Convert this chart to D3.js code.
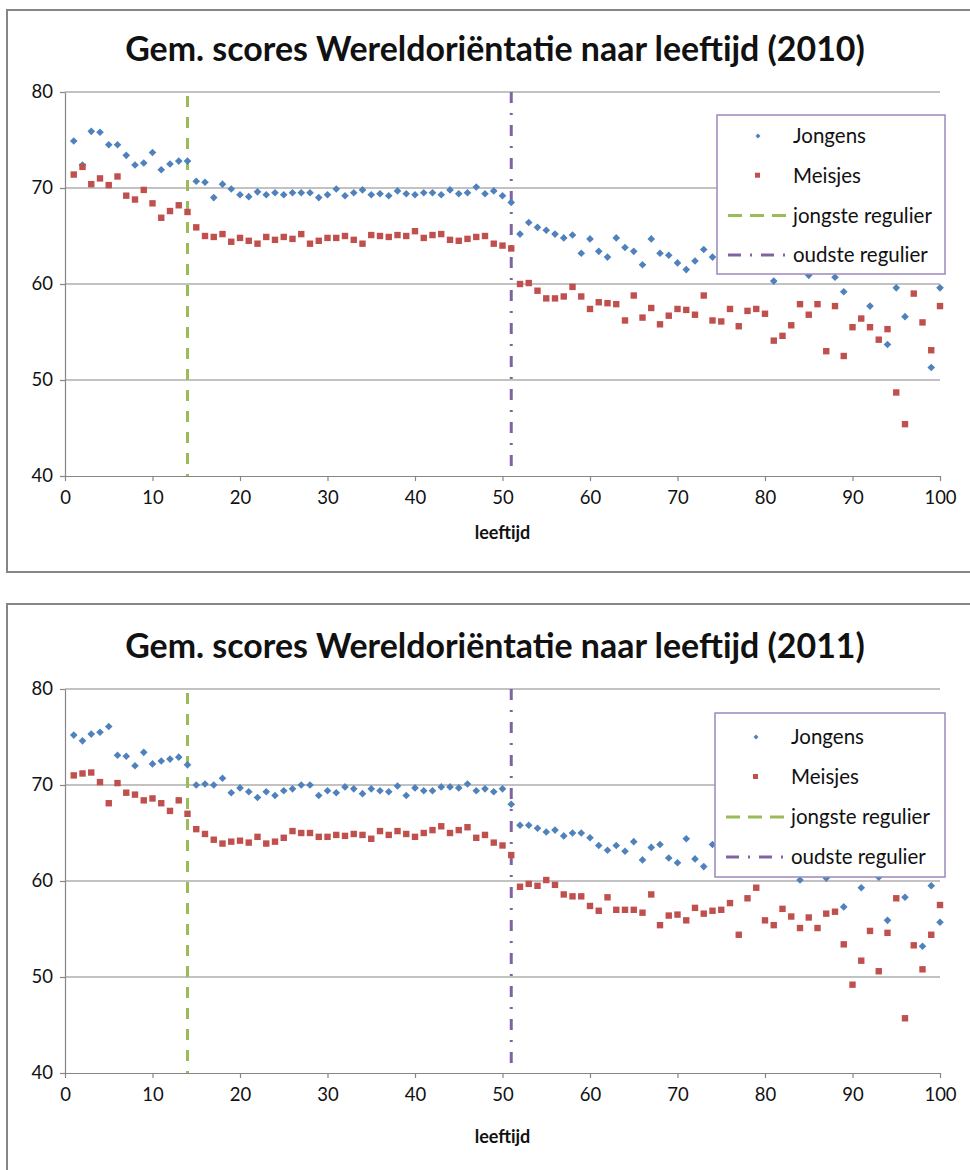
<!DOCTYPE html>
<html>
<head>
<meta charset="utf-8">
<script src="https://cdn.jsdelivr.net/npm/d3@7"></script>
<style>
body { margin: 0; background: #fff; }
text { font-family: Lato, "Open Sans", sans-serif; fill: #111; }
</style>
</head>
<body>
<svg id="chart" width="970" height="1170"></svg>
<script>
// leeftijd 1..100
const ages = d3.range(1, 101);
const yTicks = [40, 50, 60, 70, 80];
const xTicks = [0, 10, 20, 30, 40, 50, 60, 70, 80, 90, 100];
const jongsteRegulier = 14;
const oudsteRegulier = 51;
const legendLabels = ['Jongens', 'Meisjes', 'jongste regulier', 'oudste regulier'];

const jongens2010 = [74.9, 72.4, 75.9, 75.8, 74.5, 74.5, 73.4, 72.4, 72.6, 73.7,
  71.9, 72.5, 72.8, 72.8, 70.7, 70.6, 69.0, 70.4, 69.9, 69.3,
  69.1, 69.6, 69.3, 69.5, 69.3, 69.5, 69.5, 69.5, 69.0, 69.3,
  69.9, 69.2, 69.5, 69.8, 69.3, 69.4, 69.2, 69.7, 69.4, 69.3,
  69.5, 69.5, 69.3, 69.8, 69.4, 69.5, 70.1, 69.4, 69.7, 69.2,
  68.5, 65.2, 66.4, 65.9, 65.6, 65.2, 64.8, 65.1, 63.2, 64.7,
  63.4, 62.8, 64.8, 63.8, 63.4, 62.0, 64.7, 63.2, 63.0, 62.2,
  61.5, 62.4, 63.6, 62.8, 62.6, 63.1, 62.2, 62.9, 61.9, 62.4,
  60.3, 62.1, 61.6, 62.7, 60.9, 62.3, 61.9, 60.7, 59.2, 62.0,
  61.5, 57.7, 62.4, 53.7, 59.6, 56.6, 61.8, 62.5, 51.3, 59.6];

const meisjes2010 = [71.4, 72.2, 70.4, 71.0, 70.3, 71.2, 69.2, 68.8, 69.8, 68.4,
  66.9, 67.6, 68.2, 67.5, 65.9, 65.0, 64.9, 65.2, 64.4, 64.8,
  64.5, 64.2, 64.9, 64.6, 64.9, 64.7, 65.2, 64.2, 64.5, 64.8,
  64.8, 65.0, 64.6, 64.2, 65.1, 65.0, 64.9, 65.1, 65.0, 65.5,
  64.8, 65.1, 65.2, 64.6, 64.5, 64.7, 64.9, 65.0, 64.2, 64.0,
  63.7, 60.0, 60.1, 59.3, 58.5, 58.5, 58.7, 59.7, 58.7, 57.4,
  58.1, 58.0, 57.9, 56.2, 58.8, 56.5, 57.5, 55.8, 56.7, 57.4,
  57.3, 56.8, 58.8, 56.2, 56.1, 57.4, 55.6, 57.2, 57.4, 56.9,
  54.1, 54.6, 55.7, 57.9, 56.8, 57.9, 53.0, 57.7, 52.5, 55.5,
  56.4, 55.5, 54.2, 55.3, 48.7, 45.4, 59.0, 56.0, 53.1, 57.7];

const jongens2011 = [75.2, 74.6, 75.3, 75.5, 76.1, 73.1, 73.0, 72.0, 73.4, 72.2,
  72.5, 72.7, 72.9, 72.1, 70.0, 70.1, 70.0, 70.7, 69.2, 69.7,
  69.3, 68.7, 69.3, 68.9, 69.4, 69.6, 70.0, 70.0, 68.9, 69.4,
  69.2, 69.8, 69.6, 69.1, 69.6, 69.4, 69.3, 69.9, 68.9, 69.7,
  69.4, 69.4, 69.8, 69.8, 69.7, 70.1, 69.4, 69.6, 69.3, 69.6,
  68.0, 65.8, 65.8, 65.5, 65.1, 65.3, 64.7, 65.0, 65.0, 64.5,
  63.7, 63.2, 63.7, 63.1, 64.1, 62.2, 63.5, 63.8, 62.4, 61.9,
  64.4, 62.3, 61.5, 63.8, 62.6, 62.0, 61.8, 62.3, 61.2, 61.6,
  61.0, 61.9, 61.4, 60.1, 61.5, 61.2, 60.3, 61.0, 57.3, 61.7,
  59.3, 61.0, 60.4, 55.9, 61.2, 58.3, 60.9, 53.2, 59.5, 55.7];

const meisjes2011 = [71.0, 71.2, 71.3, 70.3, 68.1, 70.2, 69.2, 69.0, 68.4, 68.6,
  68.1, 67.3, 68.4, 67.0, 65.4, 64.9, 64.3, 63.9, 64.1, 64.2,
  64.0, 64.6, 63.9, 64.1, 64.5, 65.2, 65.0, 65.0, 64.6, 64.6,
  64.8, 64.7, 64.9, 64.8, 64.4, 65.2, 64.8, 65.2, 64.9, 64.6,
  65.0, 65.3, 65.7, 65.0, 65.3, 65.6, 64.5, 64.8, 64.0, 63.7,
  62.7, 59.4, 59.7, 59.5, 60.1, 59.6, 58.6, 58.4, 58.4, 57.4,
  56.9, 58.3, 57.0, 57.0, 57.0, 56.7, 58.6, 55.4, 56.4, 56.5,
  55.9, 57.2, 56.6, 56.9, 57.0, 57.7, 54.4, 58.2, 59.3, 55.9,
  55.4, 57.1, 56.3, 55.1, 56.2, 55.1, 56.6, 56.8, 53.4, 49.2,
  51.7, 54.8, 50.6, 54.6, 58.2, 45.7, 53.3, 50.8, 54.4, 57.5];

const blue = '#4F81BD';
const red = '#C0504D';
const green = '#9BBB59';
const purple = '#8064A2';
const gridColor = '#868686';

const svg = d3.select('#chart');
const x = d3.scaleLinear().domain([0, 100]).range([65, 940]);
const y = d3.scaleLinear().domain([40, 80]).range([476, 92]);

function drawChart(top, title, boys, girls, opt) {
  const g = svg.append('g').attr('transform', `translate(0,${top})`);

  g.append('rect')
    .attr('x', 7).attr('y', opt.frameTop)
    .attr('width', 980).attr('height', opt.frameHeight)
    .attr('fill', 'none').attr('stroke', gridColor).attr('stroke-width', 2);

  const t = g.append('text')
    .attr('x', 495).attr('y', 61)
    .attr('text-anchor', 'middle')
    .attr('font-weight', 'bold')
    .attr('font-size', 30)
    .text(title);
  // fit title to the width seen in the picture
  const len = t.node().getComputedTextLength();
  t.attr('font-size', 30 * 740 / len);

  // grid
  g.append('g').selectAll('line').data(yTicks.filter(d => d > 40)).join('line')
    .attr('x1', x(0)).attr('x2', x(100))
    .attr('y1', d => y(d)).attr('y2', d => y(d))
    .attr('stroke', gridColor).attr('stroke-width', 1.2);

  const yAxis = g.append('g').attr('transform', `translate(${x(0)},0)`)
    .call(d3.axisLeft(y).tickValues(yTicks).tickSize(5).tickSizeOuter(0).tickPadding(7));
  const xAxis = g.append('g').attr('transform', `translate(0,${y(40)})`)
    .call(d3.axisBottom(x).tickValues(xTicks).tickSize(5).tickSizeOuter(0).tickPadding(10));
  [yAxis, xAxis].forEach(a => {
    a.selectAll('path, line').attr('stroke', gridColor).attr('stroke-width', 1.2);
    a.selectAll('text').attr('font-size', 18.5).attr('font-family', 'Lato, sans-serif').attr('fill', '#111');
  });

  g.append('text')
    .attr('x', x(50)).attr('y', opt.axisTitleY)
    .attr('text-anchor', 'middle')
    .attr('font-weight', 'bold')
    .attr('font-size', 18)
    .text('leeftijd');

  // regulier lines
  g.append('line')
    .attr('x1', x(jongsteRegulier)).attr('x2', x(jongsteRegulier))
    .attr('y1', y(80)).attr('y2', y(40))
    .attr('stroke', green).attr('stroke-width', 3)
    .attr('stroke-dasharray', '11,10').attr('stroke-dashoffset', -4);
  g.append('line')
    .attr('x1', x(oudsteRegulier)).attr('x2', x(oudsteRegulier))
    .attr('y1', y(80)).attr('y2', y(40))
    .attr('stroke', purple).attr('stroke-width', 3)
    .attr('stroke-dasharray', '11,10,2,10');

  g.append('g').selectAll('path').data(boys).join('path')
    .attr('transform', (d, i) => `translate(${x(ages[i])},${y(d)})`)
    .attr('d', 'M0,-3.8L3.8,0L0,3.8L-3.8,0Z')
    .attr('fill', blue);

  g.append('g').selectAll('rect').data(girls).join('rect')
    .attr('x', (d, i) => x(ages[i]) - 3.2)
    .attr('y', d => y(d) - 3.2)
    .attr('width', 6.4).attr('height', 6.4)
    .attr('fill', red);

  // legend
  const lg = g.append('g').attr('transform', `translate(${opt.legend.x},${opt.legend.y})`);
  lg.append('rect')
    .attr('width', opt.legend.w).attr('height', opt.legend.h)
    .attr('fill', '#fff').attr('stroke', '#9c88bd').attr('stroke-width', 1.5);
  const item = i => opt.legend.first + i * opt.legend.step;
  lg.append('path')
    .attr('transform', `translate(41,${item(0)})`)
    .attr('d', 'M0,-2.5L2.5,0L0,2.5L-2.5,0Z').attr('fill', blue);
  lg.append('rect').attr('x', 38).attr('y', item(1) - 3)
    .attr('width', 5).attr('height', 5).attr('fill', red);
  lg.append('line').attr('x1', 11).attr('x2', 70)
    .attr('y1', item(2)).attr('y2', item(2))
    .attr('stroke', green).attr('stroke-width', 3).attr('stroke-dasharray', '14,8');
  lg.append('line').attr('x1', 11).attr('x2', 70)
    .attr('y1', item(3)).attr('y2', item(3))
    .attr('stroke', purple).attr('stroke-width', 3).attr('stroke-dasharray', '13,9,2,9');
  lg.selectAll('text.lab').data(legendLabels).join('text')
    .attr('class', 'lab')
    .attr('x', 76).attr('y', (d, i) => item(i))
    .attr('dy', '0.35em')
    .attr('font-size', 20.5)
    .text(d => d);
}

drawChart(0, 'Gem. scores Wereldoriëntatie naar leeftijd (2010)', jongens2010, meisjes2010, {
  frameTop: 10, frameHeight: 562, axisTitleY: 539,
  legend: { x: 717, y: 115, w: 228, h: 159, first: 21, step: 39.7 }
});

drawChart(597, 'Gem. scores Wereldoriëntatie naar leeftijd (2011)', jongens2011, meisjes2011, {
  frameTop: 7, frameHeight: 700, axisTitleY: 546,
  legend: { x: 715, y: 116, w: 230, h: 164, first: 24, step: 40 }
});
</script>
</body>
</html>
